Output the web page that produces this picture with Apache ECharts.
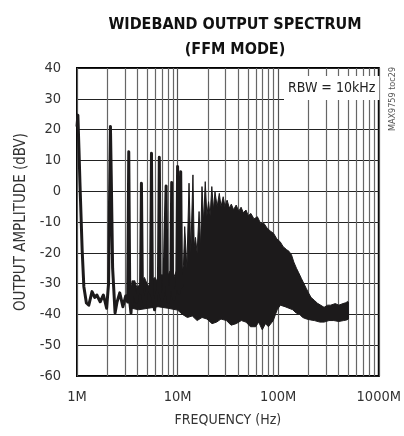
<!DOCTYPE html>
<html><head><meta charset="utf-8">
<script src="https://cdn.jsdelivr.net/npm/echarts@6/dist/echarts.min.js"></script>
<style>html,body{margin:0;padding:0;background:#fff}#c{width:404px;height:436px}</style>
</head><body><div id="c"></div>
<script>
// Frequencies in MHz, levels in dBV
const traceFreq = [1.0,1.02,1.045,1.07,1.125,1.17,1.24,1.31,1.41,1.5,1.575,1.70,1.83,1.97,2.06,2.12,2.15,2.19,2.26,2.39,2.5,2.66,2.86,3.05,3.19,3.27,3.35,3.44,3.6,3.72,3.9,4.1,4.28,4.37,4.47,4.7,5.0,5.38,5.50,5.62,5.9,6.2,6.44,6.58,6.72,7.0,7.3,7.53,7.69,7.85,8.1,8.35,8.56,8.74,8.92,9.2,9.5,9.8,10.0,10.2,10.4,10.55,10.74,10.95,11.2];
const traceLevel = [21,24.7,14,2.6,-19,-31,-36.3,-37,-32.6,-34.5,-33.7,-35.9,-33.7,-38,-30,5,21,5,-25,-39.5,-36,-33,-37.5,-34,-36,12.8,-36,-39.6,-29.4,-33,-36,-31,-33,2.6,-33,-37.5,-31,-33,12.3,-34,-38.5,-33,-32,11,-33,-35.3,-32,-32,1.7,-33,-36,-31,-32,2.8,-33,-35,-32,-31,8,-32,-33,-30,6.3,-31,-30];

const bandTopFreq = [3.5,3.74,4.0,4.28,4.68,5.11,5.47,5.98,6.39,6.99,7.65,8.36,9.15,10.0,10.94,11.44,11.77,12.37,12.99,13.53,14.21,14.62,15.06,15.64,16.35,16.91,17.48,18.16,18.83,19.56,20.32,21.06,21.88,22.72,23.54,24.73,25.98,27.04,28.4,29.57,31.06,32.71,34.2,36,38.24,40.5,42.77,45,47.83,50.5,53.48,57.5,62.13,67,72,77.68,84,90.04,97,104.6,112,121.5,128,135.8,143,151.9,160,169.9,180,189.9,200,212.4,230,246.2,286,310,332.2,370,399.9,440,470.8,490,500];
const bandTopLevel = [-31,-29,-32,-30,-28,-31,-29,-28,-30,-27,-29,-26,-28,-25,-27,-24,-11.5,-25,2.6,-20,5.3,-18,-15,-20,-6.6,-18,1.5,-10,3.1,-8,-3.4,-8,1.5,-6,-0.2,-5,-0.7,-5,-1.8,-5,-2.9,-5.5,-4.2,-6,-4.5,-6.5,-5.2,-7,-6.1,-8,-7.2,-9,-8.3,-10.5,-10.4,-12,-13,-13.7,-15.5,-16.4,-18,-19,-19.5,-20.7,-23,-25,-26.5,-28.3,-30,-31.5,-33,-34.5,-35.5,-36.4,-37.7,-37,-37,-36.5,-37,-36.5,-36.2,-35.8,-36];

const bandBottomFreq = [3.5,4.09,5.11,6.39,8.0,10.0,11.18,12.51,14,15.64,17.5,19.56,22,24.45,27,30.58,34,38.24,43,47.83,53,59.8,64,69.45,74.8,80,89.4,94,97.8,105,117,128,139.8,150,163.6,175,191.2,210,228.7,260,286,320,357.6,400,447.2,480,500];
const bandBottomLevel = [-38,-38.5,-38,-37.5,-38,-38.6,-40,-41,-40.5,-42,-41,-41.5,-43,-42.5,-41.5,-42,-43.5,-43,-42,-42.5,-44,-44,-42.5,-45,-43,-44,-42,-40,-38.5,-37,-37.5,-38,-38.5,-39.5,-40,-41,-41.5,-41.8,-42,-42.5,-42.5,-42,-42,-42.3,-42,-41.8,-41.5];

const minorGridFreq = [2,3,4,5,6,7,8,9,20,30,40,50,60,70,80,90,200,300,400,500,600,700,800,900];

const traceData = traceFreq.map((f,i)=>[f, traceLevel[i]]);
const bandPoly = bandTopFreq.map((f,i)=>[f, bandTopLevel[i]])
  .concat(bandBottomFreq.map((f,i)=>[f, bandBottomLevel[i]]).reverse());

const FONT = "'DejaVu Sans Condensed','Liberation Sans Narrow',sans-serif";
const chart = echarts.init(document.getElementById('c'), null, {renderer:'canvas'});
chart.setOption({
  animation:false,
  backgroundColor:'#fff',
  title:{
    text:'WIDEBAND OUTPUT SPECTRUM\n(FFM MODE)',
    left:230, top:7, textAlign:'center',
    textStyle:{fontFamily:FONT, fontWeight:'bold', fontSize:16, lineHeight:25, color:'#111'}
  },
  grid:{left:77, right:18, top:68, bottom:60, show:true, borderColor:'#000', borderWidth:2, backgroundColor:'transparent'},
  xAxis:{
    type:'log', logBase:10, min:1, max:1000,
    name:'FREQUENCY (Hz)', nameLocation:'middle', nameGap:37,
    nameTextStyle:{fontFamily:FONT, fontSize:14, color:'#333'},
    axisLine:{show:false}, axisTick:{show:false},
    axisLabel:{formatter:v=>v+'M', fontFamily:FONT, fontSize:14.5, color:'#333', margin:14},
    splitLine:{show:true, lineStyle:{color:'#555', width:1.2}}
  },
  yAxis:{
    type:'value', min:-60, max:40, interval:10,
    name:'OUTPUT AMPLITUDE (dBV)', nameLocation:'middle', nameGap:37,
    nameTextStyle:{fontFamily:FONT, fontSize:15, color:'#333'},
    axisLine:{show:false}, axisTick:{show:false},
    axisLabel:{fontFamily:FONT, fontSize:14.5, color:'#333', margin:16},
    splitLine:{show:true, lineStyle:{color:'#222', width:1}}
  },
  series:[
    {
      type:'custom', z:3, clip:true, silent:true,
      data:[bandPoly[0]],
      renderItem:function(params, api){
        if(params.dataIndex!==0) return null;
        const pts = bandPoly.map(p=>api.coord(p));
        return {type:'polygon', shape:{points:pts}, style:{fill:'#1c1a1b', stroke:'#1c1a1b', lineWidth:1}};
      }
    },
    {
      type:'line', z:4, data:traceData, showSymbol:false, clip:true, silent:true,
      lineStyle:{color:'#1c1a1b', width:3, join:'round'},
      markLine:{
        z:1, silent:true, symbol:['none','none'], label:{show:false}, animation:false,
        lineStyle:{color:'#666', width:1.2, type:'solid'},
        data:minorGridFreq.map(f=>({xAxis:f}))
      }
    }
  ],
  graphic:[
    {type:'text', left:284, top:76, z:10,
     style:{text:'RBW = 10kHz', font:"14px 'DejaVu Sans Condensed','Liberation Sans Narrow',sans-serif",
            fill:'#222', backgroundColor:'#fff', padding:[5,4,5,4]}},
    {type:'text', x:393, y:99, rotation:Math.PI/2, z:10,
     style:{text:'MAX9759 toc29', font:"9px 'DejaVu Sans Condensed','Liberation Sans Narrow',sans-serif",
            fill:'#555', align:'center', verticalAlign:'middle'}}
  ]
});
</script></body></html>
